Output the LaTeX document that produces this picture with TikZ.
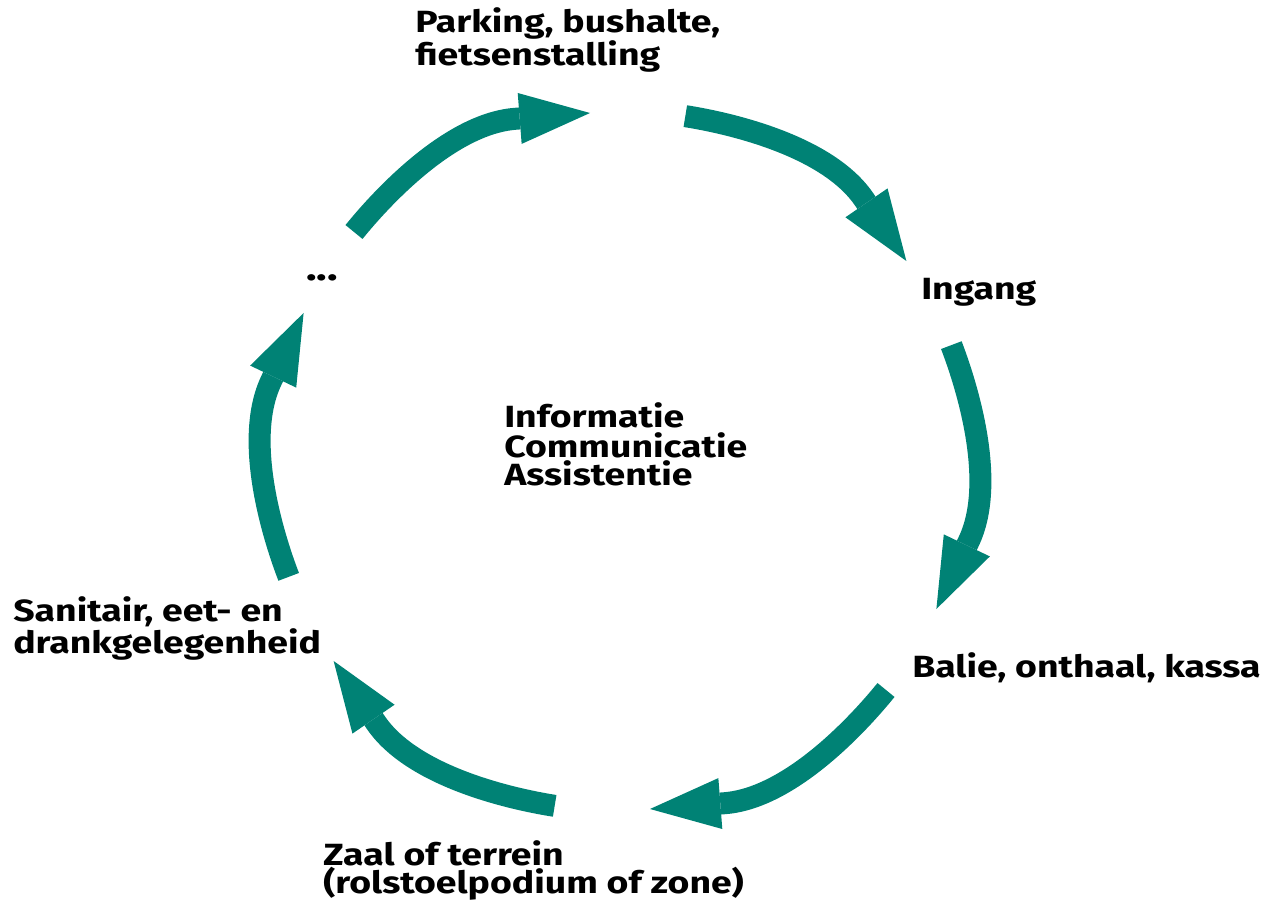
\documentclass[tikz,border=0pt]{standalone}
\usepackage{fontspec}
\setmainfont{Fira Sans}[FakeStretch=1.22]
\usetikzlibrary{arrows.meta}
\definecolor{flowteal}{RGB}{0,130,117}
\begin{document}
\begin{tikzpicture}[x=0.75pt,y=-0.75pt,
  lbl/.style={anchor=base west, align=left, inner sep=0pt,
    font=\fontsize{23}{21}\selectfont\bfseries},
  flow/.style={draw=flowteal, line width=16.5pt,
    -{Triangle[length=52.9pt,width=38.3pt,line width=0pt]}}]
\useasboundingbox (0,0) rectangle (1279,905);
\node[lbl] (park) at (415,66) {Parking, bushalte,\\fietsenstalling};
\node[lbl] (ing)  at (921,300) {Ingang};
\node[lbl] (bal)  at (912,677) {Balie, onthaal, kassa};
\node[lbl] (zaal) at (323,893) {Zaal of terrein\\(rolstoelpodium of zone)};
\node[lbl] (san)  at (13,653) {Sanitair, eet- en\\drankgelegenheid};
\node[lbl, font=\fontsize{27}{21}\selectfont\bfseries] (dots) at (306,281) {...};
\node[lbl, font=\fontsize{23}{21.75}\selectfont\bfseries] (info) at (504,486) {Informatie\\Communicatie\\Assistentie};
\foreach \k in {0,...,5}{
  \begin{scope}[shift={(620,461)}, rotate=-60*\k]
    \coordinate (s\k) at (-266,-229);
    \coordinate (j\k) at (-104.8,-342.2);
    \coordinate (e\k) at (-30,-348);
    \draw[flow] (s\k) .. controls (-237.6,-264.1) and (-169.6,-337.1) .. (j\k) -- (e\k);
  \end{scope}
}
\end{tikzpicture}
\end{document}
